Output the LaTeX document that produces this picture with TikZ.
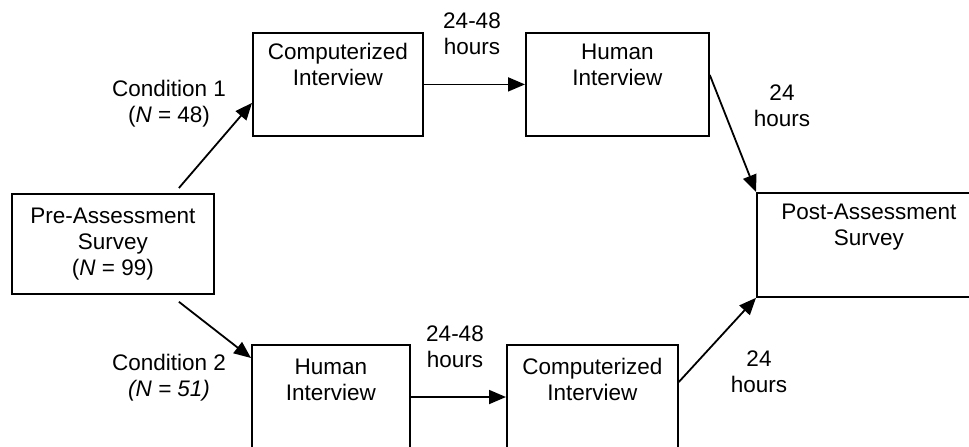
\documentclass[tikz,border=0pt]{standalone}
\usepackage{fontspec}
\setmainfont{Liberation Sans}
\usetikzlibrary{arrows.meta, calc}

\tikzset{
  stagebox/.style={draw, line width=1.8pt, anchor=north west, inner sep=0pt},
  boxtext/.style={anchor=north, align=center, yshift=-8pt},
  flow/.style={-{Triangle[length=17pt,width=14pt]}, line width=1.8pt},
  note/.style={align=center}
}

\begin{document}
\begin{tikzpicture}[x=1pt,y=-1pt, font=\fontsize{22.5}{26}\selectfont]
  \useasboundingbox (0,0) rectangle (969,447);
  \clip (0,0) rectangle (969,447);

  % Stages
  \node[stagebox, align=center, minimum width=202pt, minimum height=100pt] (pre) at (11,193)
    {Pre-Assessment\\Survey\\(\textit{N} = 99)};
  \node[stagebox, minimum width=170pt, minimum height=103pt,
    label={[boxtext]north:Computerized\\Interview}] (comp1) at (252,32) {};
  \node[stagebox, minimum width=183pt, minimum height=103pt,
    label={[boxtext]north:Human\\Interview}] (hum1) at (525,32) {};
  \node[stagebox, minimum width=224pt, minimum height=104pt,
    label={[boxtext]north:Post-Assessment\\Survey}] (post) at (756,192) {};
  \node[stagebox, minimum width=158pt, minimum height=112pt,
    label={[boxtext, yshift=-3pt]north:Human\\Interview}] (hum2) at (251,344) {};
  \node[stagebox, minimum width=171pt, minimum height=112pt,
    label={[boxtext, yshift=-3pt]north:Computerized\\Interview}] (comp2) at (506,344) {};

  % Flow
  \draw[flow] ([xshift=66pt,yshift=5pt]pre.north) -- ([yshift=-18.5pt]comp1.west);
  \draw[flow] ([xshift=66pt,yshift=-7pt]pre.south) -- ([yshift=-14pt]hum2.north west);
  \draw[flow] (comp1.east) -- (hum1.west);
  \draw[flow] ([yshift=-43pt]hum1.north east) -- (post.north west);
  \draw[flow] ([yshift=-53pt]hum2.north east) -- ([yshift=-53pt]comp2.north west);
  \draw[flow] ([yshift=-38pt]comp2.north east) -- (post.south west);

  % Labels
  \node[note] (cond1) at (169,104) {Condition 1\\(\textit{N} = 48)};
  \node[note] (cond2) at (169,378) {Condition 2\\\textit{(N = 51)}};
  \node[note] (wait1) at (472,34) {24-48\\hours};
  \node[note] (wait2) at (455,347) {24-48\\hours};
  \node[note] (gap1) at (782,106) {24\\hours};
  \node[note] (gap2) at (759,372) {24\\hours};
\end{tikzpicture}
\end{document}
